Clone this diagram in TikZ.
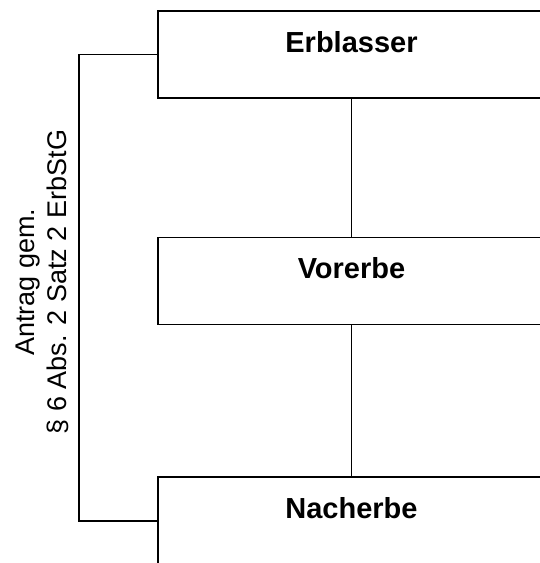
\documentclass[tikz,border=0pt]{standalone}
\usepackage{fontspec}
\setmainfont{Liberation Sans}
\usetikzlibrary{positioning}

\tikzset{
  person/.style={draw,line width=0.8pt,minimum width=193.5pt,inner xsep=0pt,inner ysep=0pt,
    text height=20.5pt,text depth=23pt,font=\fontsize{14.5}{17}\selectfont\bfseries},
  link/.style={line width=0.8pt}
}

\begin{document}
\begin{tikzpicture}[x=0.5pt,y=-0.5pt]
          \useasboundingbox (0,0) rectangle (540,563);
          \node[person] (erblasser) at (351.5,54.5) {Erblasser};
          \node[person,below=69pt of erblasser] (vorerbe) {Vorerbe};
          \node[person,below=75.5pt of vorerbe] (nacherbe) {Nacherbe};
          \node[rotate=90,align=center,font=\fontsize{13.5}{16}\selectfont] (antrag) at (42,282) {Antrag gem.\\\S\ 6 Abs. 2 Satz 2 ErbStG};
          \draw[link] (erblasser) -- (vorerbe);
          \draw[link] (vorerbe) -- (nacherbe);
          \draw[link] (erblasser.west) -- ++(-78,0) |- (nacherbe.west);
        \end{tikzpicture}
\end{document}
